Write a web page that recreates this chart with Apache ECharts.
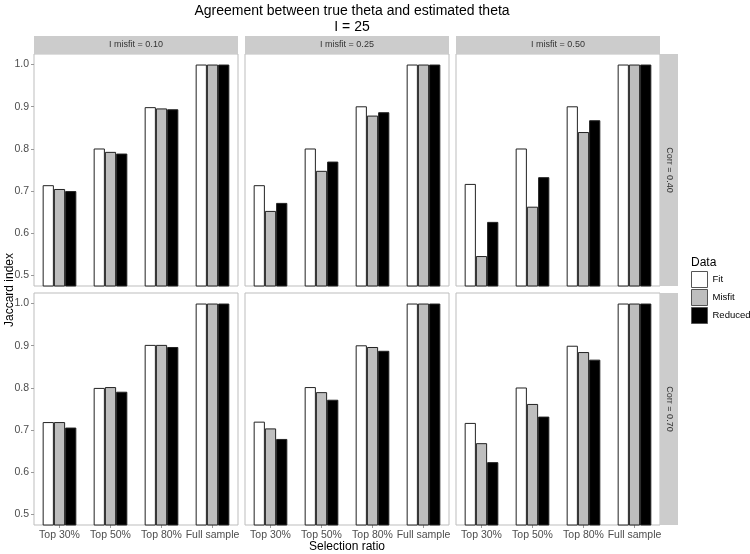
<!DOCTYPE html>
<html>
<head>
<meta charset="utf-8">
<script src="https://cdn.jsdelivr.net/npm/echarts@6/dist/echarts.min.js"></script>
<style>
  html, body { margin: 0; padding: 0; background: #fff; }
  #chart { width: 750px; height: 554px; }
</style>
</head>
<body>
<div id="chart"></div>
<script>
  const categories = ["Top 30%", "Top 50%", "Top 80%", "Full sample"];
  const misfitLabels = ["I misfit = 0.10", "I misfit = 0.25", "I misfit = 0.50"];
  const corrLabels = ["Corr = 0.40", "Corr = 0.70"];
  const yTicks = [0.5, 0.6, 0.7, 0.8, 0.9, 1.0];

  // row 0: corr 0.40, row 1: corr 0.70; one panel per misfit level
  const fit = [
    [[0.714, 0.801, 0.899, 1.0], [0.714, 0.801, 0.901, 1.0], [0.717, 0.801, 0.901, 1.0]],
    [[0.719, 0.800, 0.902, 1.0], [0.720, 0.802, 0.901, 1.0], [0.717, 0.801, 0.900, 1.0]]
  ];
  const misfit = [
    [[0.705, 0.793, 0.896, 1.0], [0.653, 0.748, 0.879, 1.0], [0.546, 0.663, 0.840, 1.0]],
    [[0.719, 0.802, 0.902, 1.0], [0.704, 0.790, 0.897, 1.0], [0.669, 0.762, 0.885, 1.0]]
  ];
  const reduced = [
    [[0.700, 0.789, 0.894, 1.0], [0.672, 0.770, 0.887, 1.0], [0.627, 0.733, 0.868, 1.0]],
    [[0.706, 0.791, 0.897, 1.0], [0.679, 0.772, 0.888, 1.0], [0.624, 0.732, 0.867, 1.0]]
  ];

  const font = "Liberation Sans, Arial, sans-serif";
  const colLeft = [34, 245, 456];
  const colWidth = 204;
  const rowTop = [54, 293];
  const rowHeight = 232;
  const stripFill = "#cccccc";
  const panelBorder = "#bdbdbd";

  const grids = [], xAxes = [], yAxes = [], series = [], graphics = [];
  const seriesDefs = [
    { name: "Fit", data: fit, color: "#ffffff" },
    { name: "Misfit", data: misfit, color: "#bebebe" },
    { name: "Reduced", data: reduced, color: "#000000" }
  ];

  for (let r = 0; r < 2; r++) {
    for (let c = 0; c < 3; c++) {
      const idx = r * 3 + c;
      grids.push({
        left: colLeft[c], top: rowTop[r], width: colWidth, height: rowHeight,
        show: true, backgroundColor: "#fff", borderColor: panelBorder, borderWidth: 1
      });
      xAxes.push({
        type: "category", gridIndex: idx, data: categories,
        axisLine: { show: false },
        axisTick: { show: r === 1, alignWithLabel: true, interval: 0, length: 3, lineStyle: { color: "#999" } },
        axisLabel: { show: r === 1, interval: 0, color: "#4d4d4d", fontSize: 10.5, fontFamily: font, margin: 5 }
      });
      yAxes.push({
        type: "value", gridIndex: idx, min: 0.475, max: 1.025,
        splitLine: { show: false },
        axisLine: { show: false },
        axisTick: { show: c === 0, length: 3, customValues: yTicks, lineStyle: { color: "#999" } },
        axisLabel: {
          show: c === 0, customValues: yTicks, color: "#4d4d4d", fontSize: 10.5,
          fontFamily: font, margin: 5, formatter: v => v.toFixed(1)
        }
      });
      seriesDefs.forEach(s => {
        series.push({
          type: "bar", name: s.name, xAxisIndex: idx, yAxisIndex: idx,
          data: s.data[r][c], barWidth: "22%", barGap: "0%",
          itemStyle: { color: s.color, borderColor: "#222", borderWidth: 1 },
          emphasis: { disabled: true }
        });
      });
    }
  }

  // facet strips on top
  for (let c = 0; c < 3; c++) {
    graphics.push({
      type: "rect", shape: { x: colLeft[c], y: 36, width: colWidth, height: 18 },
      style: { fill: stripFill }
    });
    graphics.push({
      type: "text", x: colLeft[c] + colWidth / 2, y: 45,
      style: { text: misfitLabels[c], fill: "#333", font: "9px " + font, align: "center", verticalAlign: "middle" }
    });
  }
  // facet strips on right
  for (let r = 0; r < 2; r++) {
    graphics.push({
      type: "rect", shape: { x: 660, y: rowTop[r], width: 18, height: rowHeight },
      style: { fill: stripFill }
    });
    graphics.push({
      type: "text", x: 669, y: rowTop[r] + rowHeight / 2, rotation: -Math.PI / 2,
      style: { text: corrLabels[r], fill: "#333", font: "9px " + font, align: "center", verticalAlign: "middle" }
    });
  }
  // axis titles and legend title
  graphics.push({
    type: "text", x: 10, y: 290, rotation: Math.PI / 2,
    style: { text: "Jaccard index", fill: "#000", font: "12px " + font, align: "center", verticalAlign: "middle" }
  });
  graphics.push({
    type: "text", x: 347, y: 547,
    style: { text: "Selection ratio", fill: "#000", font: "12px " + font, align: "center", verticalAlign: "middle" }
  });
  graphics.push({
    type: "text", x: 691, y: 263,
    style: { text: "Data", fill: "#000", font: "12px " + font, align: "left", verticalAlign: "middle" }
  });

  const chart = echarts.init(document.getElementById("chart"), null, { renderer: "canvas" });
  chart.setOption({
    animation: false,
    backgroundColor: "#fff",
    title: {
      text: "Agreement between true theta and estimated theta\nI = 25",
      left: 347, top: -2, textAlign: "center",
      textStyle: { fontFamily: font, fontSize: 14, fontWeight: "normal", color: "#000", lineHeight: 16 }
    },
    legend: {
      orient: "vertical", left: 691, top: 271, padding: 0,
      itemWidth: 16, itemHeight: 16, itemGap: 1,
      icon: "rect", selectedMode: false,
      itemStyle: { borderColor: "#555", borderWidth: 1 },
      data: ["Fit", "Misfit", "Reduced"],
      textStyle: { fontFamily: font, fontSize: 9.5, color: "#000", width: 45, overflow: "none" }
    },
    grid: grids,
    xAxis: xAxes,
    yAxis: yAxes,
    series: series,
    graphic: graphics
  });
</script>
</body>
</html>
